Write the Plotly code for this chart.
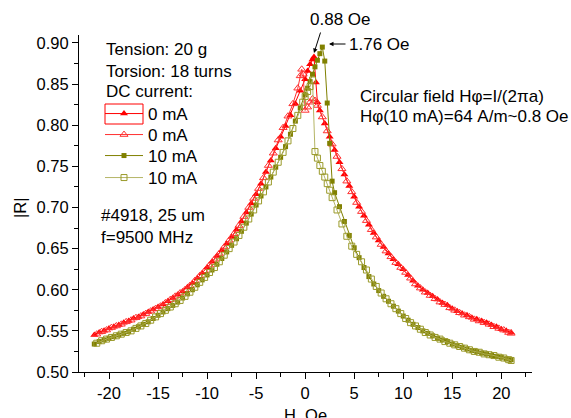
import plotly.graph_objects as go

# ---------------- data ----------------
H_0mA_fwd = [-21.5, -21, -20.5, -20, -19.5, -19, -18.5, -18, -17.5, -17, -16.5, -16, -15.5, -15,
             -14.5, -14, -13.5, -13, -12.5, -12, -11.5, -11, -10.5, -10, -9.5, -9, -8.5, -8, -7.5,
             -7, -6.5, -6, -5.5, -5, -4.5, -4, -3.5, -3, -2.5, -2, -1.5, -1, -0.5, 0,
             0.25, 0.5, 0.75, 0.9, 1.1, 1.25, 1.5,
             2, 2.5, 3, 3.5, 4, 4.5, 5, 5.5, 6, 6.5, 7, 7.5, 8, 8.5, 9, 9.5, 10, 10.5, 11, 11.5,
             12, 12.5, 13, 13.5, 14, 14.5, 15, 15.5, 16, 16.5, 17, 17.5, 18, 18.5, 19, 19.5, 20,
             20.5, 21]
R_0mA_fwd = [0.545, 0.548, 0.550, 0.553, 0.555, 0.557, 0.560, 0.562, 0.565, 0.567, 0.570, 0.573,
             0.576, 0.579, 0.582, 0.586, 0.590, 0.594, 0.598, 0.603, 0.608, 0.614, 0.620, 0.627,
             0.634, 0.641, 0.648, 0.656, 0.664, 0.673, 0.683, 0.694, 0.705, 0.716, 0.729, 0.743,
             0.757, 0.772, 0.786, 0.799, 0.812, 0.826, 0.842, 0.856,
             0.866, 0.874, 0.880, 0.883, 0.852, 0.828, 0.818,
             0.802, 0.786, 0.770, 0.755, 0.740, 0.726, 0.713, 0.701, 0.690, 0.679, 0.669, 0.660,
             0.652, 0.644, 0.637, 0.631, 0.625, 0.618, 0.611, 0.605, 0.600, 0.596, 0.592, 0.588,
             0.584, 0.581, 0.577, 0.574, 0.571, 0.569, 0.566, 0.564, 0.562, 0.560, 0.557, 0.555,
             0.552, 0.550, 0.548]

H_0mA_back = [-21.25, -20.75, -20.25, -19.75, -19.25, -18.75, -18.25, -17.75, -17.25, -16.75,
              -16.25, -15.75, -15.25, -14.75, -14.25, -13.75, -13.25, -12.75, -12.25, -11.75,
              -11.25, -10.75, -10.25, -9.75, -9.25, -8.75, -8.25, -7.75, -7.25, -6.75, -6.25,
              -5.75, -5.25, -4.75, -4.25, -3.75, -3.25, -2.75, -2.25, -1.75, -1.25, -0.75,
              -0.5, -0.35, -0.2, 0, 0.25, 0.5, 0.75, 1.0, 1.25,
              1.75, 2.25, 2.75, 3.25, 3.75, 4.25, 4.75, 5.25, 5.75, 6.25, 6.75, 7.25, 7.75, 8.25,
              8.75, 9.25, 9.75, 10.25, 10.75, 11.25, 11.75, 12.25, 12.75, 13.25, 13.75, 14.25,
              14.75, 15.25, 15.75, 16.25, 16.75, 17.25, 17.75, 18.25, 18.75, 19.25, 19.75, 20.25,
              20.75, 21]
R_0mA_back = [0.546, 0.549, 0.551, 0.554, 0.556, 0.558, 0.561, 0.563, 0.566, 0.568, 0.571, 0.574,
              0.577, 0.580, 0.584, 0.588, 0.592, 0.596, 0.600, 0.605, 0.611, 0.617, 0.623, 0.630,
              0.637, 0.644, 0.652, 0.660, 0.668, 0.678, 0.689, 0.700, 0.711, 0.723, 0.736, 0.751,
              0.766, 0.782, 0.797, 0.811, 0.826, 0.845,
              0.860, 0.868, 0.862, 0.818, 0.822, 0.828, 0.832, 0.830, 0.824,
              0.810, 0.793, 0.777, 0.762, 0.747, 0.732, 0.719, 0.706, 0.695, 0.684, 0.673, 0.664,
              0.655, 0.647, 0.640, 0.633, 0.627, 0.621, 0.614, 0.607, 0.602, 0.597, 0.593, 0.589,
              0.585, 0.582, 0.578, 0.575, 0.572, 0.569, 0.567, 0.564, 0.562, 0.560, 0.558, 0.555,
              0.553, 0.551, 0.548, 0.547]

H_10mA_fwd = [-21.5, -21, -20.5, -20, -19.5, -19, -18.5, -18, -17.5, -17, -16.5, -16, -15.5, -15,
              -14.5, -14, -13.5, -13, -12.5, -12, -11.5, -11, -10.5, -10, -9.5, -9, -8.5, -8,
              -7.5, -7, -6.5, -6, -5.5, -5, -4.5, -4, -3.5, -3, -2.5, -2, -1.5, -1, -0.5, 0,
              0.25, 0.5, 0.75, 1.0, 1.25, 1.5, 1.75, 2.0, 2.25, 2.5, 2.75, 3.0,
              3.5, 4, 4.5, 5, 5.5, 6, 6.5, 7, 7.5, 8, 8.5, 9, 9.5, 10, 10.5, 11, 11.5, 12, 12.5,
              13, 13.5, 14, 14.5, 15, 15.5, 16, 16.5, 17, 17.5, 18, 18.5, 19, 19.5, 20, 20.5, 21]
R_10mA_fwd = [0.534, 0.537, 0.539, 0.541, 0.543, 0.545, 0.547, 0.549, 0.552, 0.555, 0.558, 0.561,
              0.565, 0.569, 0.573, 0.577, 0.581, 0.585, 0.590, 0.595, 0.600, 0.606, 0.612, 0.618,
              0.624, 0.631, 0.638, 0.646, 0.654, 0.662, 0.671, 0.681, 0.692, 0.703, 0.714, 0.725,
              0.737, 0.749, 0.761, 0.774, 0.789, 0.805, 0.821, 0.837,
              0.845, 0.853, 0.862, 0.871, 0.879, 0.887, 0.895, 0.878, 0.827, 0.778, 0.732, 0.718,
              0.701, 0.683, 0.666, 0.651, 0.639, 0.627, 0.616, 0.607, 0.599, 0.592, 0.586, 0.580,
              0.574, 0.568, 0.563, 0.558, 0.554, 0.550, 0.547, 0.544, 0.541, 0.539, 0.537, 0.534,
              0.532, 0.530, 0.528, 0.526, 0.525, 0.523, 0.522, 0.520, 0.519, 0.518, 0.516, 0.515]

H_10mA_back = [-21.25, -20.75, -20.25, -19.75, -19.25, -18.75, -18.25, -17.75, -17.25, -16.75,
               -16.25, -15.75, -15.25, -14.75, -14.25, -13.75, -13.25, -12.75, -12.25, -11.75,
               -11.25, -10.75, -10.25, -9.75, -9.25, -8.75, -8.25, -7.75, -7.25, -6.75, -6.25,
               -5.75, -5.25, -4.75, -4.25, -3.75, -3.25, -2.75, -2.25, -1.75, -1.25, -0.75, -0.25,
               0.0, 0.25, 0.5, 0.75, 1.0, 1.25, 1.5, 1.75, 2.0, 2.25, 2.5, 2.75,
               3.25, 3.75, 4.25, 4.75, 5.25, 5.75, 6.25, 6.75, 7.25, 7.75, 8.25, 8.75, 9.25, 9.75,
               10.25, 10.75, 11.25, 11.75, 12.25, 12.75, 13.25, 13.75, 14.25, 14.75, 15.25, 15.75,
               16.25, 16.75, 17.25, 17.75, 18.25, 18.75, 19.25, 19.75, 20.25, 20.75, 21]
R_10mA_back = [0.535, 0.538, 0.540, 0.542, 0.544, 0.546, 0.548, 0.550, 0.553, 0.556, 0.559, 0.563,
               0.567, 0.571, 0.575, 0.579, 0.583, 0.587, 0.592, 0.597, 0.603, 0.609, 0.615, 0.621,
               0.627, 0.634, 0.642, 0.650, 0.658, 0.666, 0.676, 0.686, 0.697, 0.708, 0.719, 0.731,
               0.743, 0.755, 0.767, 0.781, 0.796, 0.812, 0.828,
               0.835, 0.841, 0.847, 0.855, 0.768, 0.760, 0.751, 0.744, 0.737, 0.729, 0.721, 0.712,
               0.697, 0.680, 0.665, 0.653, 0.643, 0.634, 0.624, 0.613, 0.604, 0.596, 0.589, 0.583,
               0.577, 0.571, 0.565, 0.560, 0.556, 0.552, 0.548, 0.545, 0.542, 0.540, 0.537, 0.535,
               0.533, 0.531, 0.529, 0.527, 0.525, 0.524, 0.522, 0.521, 0.520, 0.518, 0.517, 0.515,
               0.514]

x_ticks = [-20, -15, -10, -5, 0, 5, 10, 15, 20]
y_ticks = [0.50, 0.55, 0.60, 0.65, 0.70, 0.75, 0.80, 0.85, 0.90]

# ---------------- layout geometry ----------------
W, Hh = 571, 418
ML, MR, MT, MB = 79, 39, 35, 46
PW, PH = W - ML - MR, Hh - MT - MB


def px(x):
    return (x - ML) / PW


def py(y):
    return (Hh - MB - y) / PH


FONT = "Arial, Liberation Sans, sans-serif"
FS = 16.5
FT = 17
RED = "#ff0000"
RED_OPEN = "#ff3030"
OLIVE = "#808000"
OLIVE_OPEN = "#9a9a2a"
OLIVE_OPEN_LINE = "#b5b566"

fig = go.Figure()
fig.add_trace(go.Scatter(x=H_0mA_fwd, y=R_0mA_fwd, name="0 mA", mode="lines+markers",
                         legend="legend",
                         line=dict(color=RED, width=1),
                         marker=dict(symbol="triangle-up", size=7, color=RED)))
fig.add_trace(go.Scatter(x=H_0mA_back, y=R_0mA_back, name="0 mA", mode="lines+markers",
                         legend="legend2",
                         line=dict(color=RED_OPEN, width=1),
                         marker=dict(symbol="triangle-up-open", size=7, color=RED_OPEN,
                                     line=dict(width=1))))
fig.add_trace(go.Scatter(x=H_10mA_fwd, y=R_10mA_fwd, name="10 mA", mode="lines+markers",
                         legend="legend3",
                         line=dict(color=OLIVE, width=1),
                         marker=dict(symbol="square", size=5, color=OLIVE)))
fig.add_trace(go.Scatter(x=H_10mA_back, y=R_10mA_back, name="10 mA", mode="lines+markers",
                         legend="legend4",
                         line=dict(color=OLIVE_OPEN_LINE, width=1),
                         marker=dict(symbol="square-open", size=6, color=OLIVE_OPEN,
                                     line=dict(width=1))))

axis_common = dict(showgrid=False, zeroline=False, showline=True, linecolor="black",
                   linewidth=1, ticks="outside", ticklen=6, tickwidth=1, tickcolor="black",
                   mirror=False, automargin=False,
                   tickfont=dict(family=FONT, size=FS, color="black"))

fig.update_xaxes(range=[-23.06, 23.13], tickvals=x_ticks,
                 ticktext=[str(v) for v in x_ticks],
                 minor=dict(tickvals=[-22.5, -17.5, -12.5, -7.5, -2.5, 2.5, 7.5, 12.5, 17.5, 22.5],
                            ticks="outside", ticklen=4, tickcolor="black"),
                 **axis_common)
fig.update_yaxes(range=[0.5, 0.9097], tickvals=y_ticks,
                 ticktext=["%.2f" % v for v in y_ticks],
                 minor=dict(tickvals=[0.525, 0.575, 0.625, 0.675, 0.725, 0.775, 0.825, 0.875],
                            ticks="outside", ticklen=4, tickcolor="black"),
                 **axis_common)

ann = []


def text(x, y, s, xanchor="left", size=FT, **kw):
    ann.append(dict(x=px(x), y=py(y), xref="paper", yref="paper", text=s, showarrow=False,
                    xanchor=xanchor, yanchor="middle",
                    font=dict(family=FONT, size=size, color="black"), **kw))


text(104, 50, "Tension: 20 g")
text(104, 71, "Torsion: 18 turns")
text(104, 92, "DC current:")
text(99, 215, "#4918, 25 um")
text(99, 237, "f=9500 MHz")
text(358, 96, "Circular field H\u03c6=I/(2\u03c0a)")
text(358, 117, "H\u03c6(10 mA)=64 A/m~0.8 Oe")
text(340, 20, "0.88 Oe", xanchor="center")
text(347, 44, "1.76 Oe")
text(305, 415, "H, Oe", xanchor="center", size=FS)
text(20, 208, "|R|", xanchor="center", textangle=-90, size=FS)

# arrows
ann.append(dict(x=px(314), y=py(53), xref="paper", yref="paper", ax=7, ay=-22, text="",
                showarrow=True, arrowhead=2, arrowsize=0.9, arrowwidth=1, arrowcolor="black"))
ann.append(dict(x=px(329), y=py(44), xref="paper", yref="paper", ax=18, ay=0, text="",
                showarrow=True, arrowhead=2, arrowsize=0.9, arrowwidth=1, arrowcolor="black"))


def leg(ycenter):
    return dict(x=px(100), y=py(ycenter), xanchor="left", yanchor="middle",
                bgcolor="rgba(0,0,0,0)", borderwidth=0, itemwidth=38,
                font=dict(family=FONT, size=FT, color="black"))


fig.update_layout(
    width=W, height=Hh,
    margin=dict(l=ML, r=MR, t=MT, b=MB, pad=0),
    paper_bgcolor="white", plot_bgcolor="white",
    font=dict(family=FONT, size=FS, color="black"),
    annotations=ann,
    showlegend=True,
    legend=leg(114), legend2=leg(135), legend3=leg(156), legend4=leg(178),
    shapes=[dict(type="rect", xref="paper", yref="paper",
                 x0=px(105), x1=px(143), y0=py(104), y1=py(124),
                 line=dict(color=RED, width=1))],
)

fig.write_html("out.html", config={"displayModeBar": False},
               post_script="document.body.style.margin='0';")
